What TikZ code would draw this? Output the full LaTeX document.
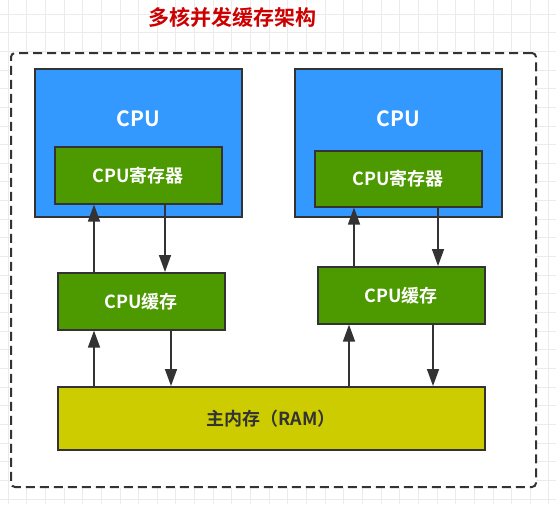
\documentclass[tikz,border=0pt]{standalone}
\usepackage{fontspec}
\setmainfont{Noto Sans CJK SC}[BoldFont={Noto Sans CJK SC Bold}]
\usetikzlibrary{arrows.meta}
\definecolor{cpublue}{HTML}{3399FF}
\definecolor{reggreen}{HTML}{4D9900}
\definecolor{ramyellow}{HTML}{CCCC00}
\definecolor{edgegray}{HTML}{333333}
\definecolor{titlered}{HTML}{CC0000}

\begin{document}
\begin{tikzpicture}[x = 1pt, y = -1pt,
    box/.style = {draw = edgegray, line width = 1.6pt, anchor = north west, inner sep = 0pt},
    lbl/.style = {font = \bfseries\fontsize{18}{20}\selectfont, text = white},
    link/.style = {-{Triangle[length = 17pt, width = 12pt]}, edgegray, line width = 1.6pt}]

        \useasboundingbox (0,0) rectangle (556,504);
        \foreach \k in {0,...,29} {
          \draw [black!8, line width = .8pt] (8 + \k*18.65, 0) -- (8 + \k*18.65, 504);
        }
        \foreach \k in {0,...,26} {
          \draw [black!8, line width = .8pt] (0, 14 + \k*18.65) -- (556, 14 + \k*18.65);
        }

        \node [font = \bfseries\fontsize{21}{24}\selectfont, text = titlered] (title) at (232,18) {多核并发缓存架构};
        \node [box, fill = white, rounded corners = 4pt, line width = 2pt, dash pattern = on 9pt off 5pt,
               minimum width = 525pt, minimum height = 434pt] (frame) at (10,52) {};

        % two cores
        \node [box, fill = cpublue, minimum width = 207pt, minimum height = 148pt] (cpuL) at (34,68) {};
        \node [box, fill = cpublue, minimum width = 207pt, minimum height = 148pt] (cpuR) at (294,68) {};
        \node [lbl, font = \bfseries\fontsize{21}{24}\selectfont] (cpuLtxt) at ([yshift = -51pt]cpuL.north) {CPU};
        \node [lbl, font = \bfseries\fontsize{21}{24}\selectfont] (cpuRtxt) at ([yshift = -51pt]cpuR.north) {CPU};
        \node [box, lbl, fill = reggreen, minimum width = 167pt, minimum height = 57pt] (regL) at (54,146) {CPU寄存器};
        \node [box, lbl, fill = reggreen, minimum width = 167pt, minimum height = 56pt] (regR) at (314,150) {CPU寄存器};

        % caches and memory
        \node [box, lbl, fill = reggreen, minimum width = 167pt, minimum height = 57pt] (cacheL) at (57,272) {CPU缓存};
        \node [box, lbl, fill = reggreen, minimum width = 167pt, minimum height = 57pt] (cacheR) at (317,266) {CPU缓存};
        \node [box, lbl, text = edgegray, fill = ramyellow, minimum width = 427pt, minimum height = 63pt] (ram) at (57,386) {主内存（RAM）};

        \draw [link] ([xshift = 37pt]cacheL.north west) -- ([xshift = 37pt]cacheL.north west |- regL.south);
        \draw [link] ([xshift = 111pt]regL.south west) -- ([xshift = 111pt]regL.south west |- cacheL.north);
        \draw [link] ([xshift = 37pt]cacheR.north west) -- ([xshift = 37pt]cacheR.north west |- regR.south);
        \draw [link] ([xshift = 124pt]regR.south west) -- ([xshift = 124pt]regR.south west |- cacheR.north);
        \draw [link] ([xshift = 37pt]ram.north west) -- ([xshift = 37pt]ram.north west |- cacheL.south);
        \draw [link] ([xshift = 114pt]cacheL.south west) -- ([xshift = 114pt]cacheL.south west |- ram.north);
        \draw [link] ([xshift = 292pt]ram.north west) -- ([xshift = 292pt]ram.north west |- cacheR.south);
        \draw [link] ([xshift = 116pt]cacheR.south west) -- ([xshift = 116pt]cacheR.south west |- ram.north);
\end{tikzpicture}
\end{document}
